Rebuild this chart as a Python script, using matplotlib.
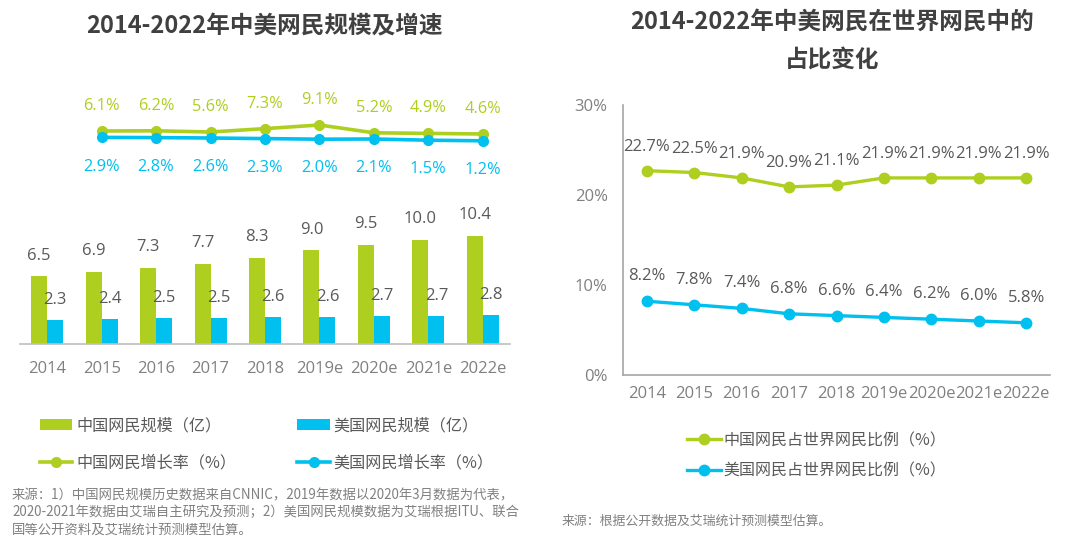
import matplotlib
matplotlib.use('Agg')
import numpy as np
import matplotlib.pyplot as plt
from matplotlib.ticker import FuncFormatter

# ---------------- data ----------------
years = ['2014', '2015', '2016', '2017', '2018', '2019e', '2020e', '2021e', '2022e']
china_users = [6.5, 6.9, 7.3, 7.7, 8.3, 9.0, 9.5, 10.0, 10.4]   # 亿
us_users = [2.3, 2.4, 2.5, 2.5, 2.6, 2.6, 2.7, 2.7, 2.8]        # 亿
rate_years = ['2015', '2016', '2017', '2018', '2019e', '2020e', '2021e', '2022e']
china_growth = [6.1, 6.2, 5.6, 7.3, 9.1, 5.2, 4.9, 4.6]          # %
us_growth = [2.9, 2.8, 2.6, 2.3, 2.0, 2.1, 1.5, 1.2]             # %
china_share = [22.7, 22.5, 21.9, 20.9, 21.1, 21.9, 21.9, 21.9, 21.9]  # %
us_share = [8.2, 7.8, 7.4, 6.8, 6.6, 6.4, 6.2, 6.0, 5.8]              # %

left_title = '2014-2022年中美网民规模及增速'
right_title = '2014-2022年中美网民在世界网民中的\n占比变化'
left_source = ['来源：1）中国网民规模历史数据来自CNNIC，2019年数据以2020年3月数据为代表，',
               '2020-2021年数据由艾瑞自主研究及预测；2）美国网民规模数据为艾瑞根据ITU、联合',
               '国等公开资料及艾瑞统计预测模型估算。']
right_source = '来源：根据公开数据及艾瑞统计预测模型估算。'

# ---------------- style ----------------
GREEN = '#AECF1F'
BLUE = '#00C0EF'
DARK = '#595959'
GREY = '#808080'
TITLE = '#404040'
FAM = ['Open Sans', 'Noto Sans CJK SC', 'DejaVu Sans']
CJK = ['Noto Sans CJK SC', 'DejaVu Sans']
plt.rcParams['font.family'] = FAM

W, H = 1080, 537
fig = plt.figure(figsize=(W / 100, H / 100), dpi=100)
fig.patch.set_facecolor('white')

def fx(px):
    return px / W

def fy(py):
    return 1 - py / H

# ---------------- left panel ----------------
x = np.arange(len(years))
bw = 0.294
axl = fig.add_axes([fx(20), fy(344), fx(490), 264 / H])
bc = axl.bar(x - bw / 2, china_users, bw, color=GREEN, zorder=2)
bu = axl.bar(x + bw / 2, us_users, bw, color=BLUE, zorder=2)
axl.set_xlim(-0.5, 8.5)
axl.set_ylim(0, 25.4)
axl.set_xticks(x)
axl.set_xticklabels(years)
axl.tick_params(axis='x', length=0, pad=12, labelsize=12, labelcolor=GREY)
axl.set_yticks([])
for s in ['left', 'right', 'top']:
    axl.spines[s].set_visible(False)
axl.spines['bottom'].set_color('#BFBFBF')
axl.spines['bottom'].set_linewidth(1.2)
for xi, v in zip(x, china_users):
    axl.annotate(f'{v:.1f}', (xi - bw / 2, v), xytext=(0, 15), textcoords='offset points',
                 ha='center', va='center', fontsize=12, color=DARK)
for xi, v in zip(x, us_users):
    axl.annotate(f'{v:.1f}', (xi + bw / 2, v), xytext=(0, 14.5), textcoords='offset points',
                 ha='center', va='center', fontsize=12, color=DARK)

axr = axl.twinx()
axr.set_ylim(-100.4, 31.6)
axr.set_yticks([])
for s in axr.spines.values():
    s.set_visible(False)
rx = np.array([years.index(y) for y in rate_years])
lc, = axr.plot(rx, china_growth, color=GREEN, lw=2.6, marker='o', ms=7, zorder=3)
lu, = axr.plot(rx, us_growth, color=BLUE, lw=2.6, marker='o', ms=7, zorder=3)
for xi, v in zip(rx, china_growth):
    axr.annotate(f'{v:.1f}%', (xi, v), xytext=(0, 18), textcoords='offset points',
                 ha='center', va='center', fontsize=11.8, color=GREEN)
for xi, v in zip(rx, us_growth):
    axr.annotate(f'{v:.1f}%', (xi, v), xytext=(0, -21), textcoords='offset points',
                 ha='center', va='center', fontsize=11.8, color=BLUE)

fig.text(fx(264), fy(26), left_title, ha='center', va='center', fontsize=17,
         fontweight='bold', color=TITLE, family=CJK)

legl = fig.legend([bc, lc, bu, lu],
                  ['中国网民规模（亿）', '中国网民增长率（%）', '美国网民规模（亿）', '美国网民增长率（%）'],
                  ncol=2, loc='upper left', bbox_to_anchor=(fx(40), fy(417)), frameon=False,
                  prop={'family': CJK, 'size': 11.6}, handlelength=2.0, handletextpad=0.25,
                  columnspacing=3.8, labelspacing=1.25, borderpad=0, borderaxespad=0)
for t in legl.get_texts():
    t.set_color(DARK)

for i, line in enumerate(left_source):
    fig.text(fx(12), fy(495 + 17.5 * i), line, ha='left', va='center', fontsize=9.6,
             color=GREY, family=CJK)

# ---------------- right panel ----------------
ax2 = fig.add_axes([fx(623), fy(375), fx(427), 270 / H])
p1, = ax2.plot(x, china_share, color=GREEN, lw=2.4, marker='o', ms=7.5, zorder=3)
p2, = ax2.plot(x, us_share, color=BLUE, lw=2.4, marker='o', ms=7.5, zorder=3)
ax2.set_xlim(-0.5, 8.5)
ax2.set_ylim(0, 30)
ax2.set_yticks([0, 10, 20, 30])
ax2.yaxis.set_major_formatter(FuncFormatter(lambda v, p: f'{v:.0f}%'))
ax2.set_xticks(x)
ax2.set_xticklabels(years)
ax2.tick_params(axis='y', length=0, pad=11, labelsize=12, labelcolor=GREY)
ax2.tick_params(axis='x', length=0, pad=8, labelsize=12, labelcolor=GREY)
for s in ['right', 'top']:
    ax2.spines[s].set_visible(False)
for s in ['left', 'bottom']:
    ax2.spines[s].set_color('#A6A6A6')
    ax2.spines[s].set_linewidth(1.2)
for xi, v in zip(x, china_share):
    ax2.annotate(f'{v:.1f}%', (xi, v), xytext=(0, 17), textcoords='offset points',
                 ha='center', va='center', fontsize=12, color=DARK)
for xi, v in zip(x, us_share):
    ax2.annotate(f'{v:.1f}%', (xi, v), xytext=(0, 18), textcoords='offset points',
                 ha='center', va='center', fontsize=12, color=DARK)

fig.text(fx(832), fy(41), right_title, ha='center', va='center', fontsize=17,
         fontweight='bold', color=TITLE, family=CJK, linespacing=1.75)

legr = fig.legend([p1, p2], ['中国网民占世界网民比例（%）', '美国网民占世界网民比例（%）'],
                  ncol=1, loc='upper left', bbox_to_anchor=(fx(687), fy(432)), frameon=False,
                  prop={'family': CJK, 'size': 11.5}, handlelength=2.1, handletextpad=0.2,
                  labelspacing=0.85, borderpad=0, borderaxespad=0)
for t in legr.get_texts():
    t.set_color(DARK)

fig.text(fx(562), fy(521), right_source, ha='left', va='center', fontsize=9.3,
         color=GREY, family=CJK)

fig.savefig('out.png', dpi=100, facecolor='white')
